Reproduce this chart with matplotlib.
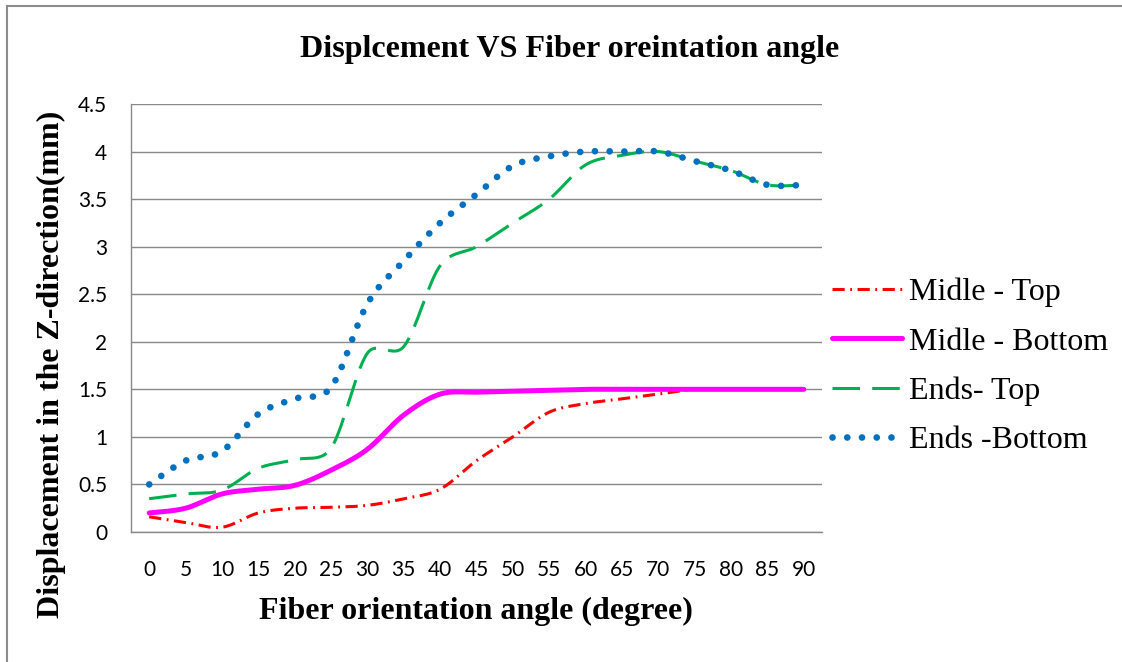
import numpy as np
import matplotlib
matplotlib.use("Agg")
import matplotlib.pyplot as plt
from matplotlib.lines import Line2D

angles = [0, 5, 10, 15, 20, 25, 30, 35, 40, 45, 50, 55, 60, 65, 70, 75, 80, 85, 90]
middle_top = [0.16, 0.10, 0.05, 0.20, 0.25, 0.26, 0.28, 0.35, 0.45, 0.75, 1.00, 1.26, 1.35, 1.40, 1.45, 1.50, 1.50, 1.50, 1.50]
middle_bottom = [0.20, 0.25, 0.40, 0.45, 0.49, 0.65, 0.87, 1.23, 1.45, 1.47, 1.48, 1.49, 1.50, 1.50, 1.50, 1.50, 1.50, 1.50, 1.50]
ends_top = [0.35, 0.40, 0.44, 0.67, 0.76, 0.88, 1.88, 1.95, 2.80, 3.00, 3.25, 3.50, 3.86, 3.96, 4.00, 3.90, 3.80, 3.65, 3.65]
ends_bottom = [0.50, 0.75, 0.85, 1.24, 1.40, 1.52, 2.40, 2.85, 3.25, 3.55, 3.85, 3.95, 4.00, 4.00, 4.00, 3.90, 3.80, 3.65, 3.65]
series_names = ["Midle - Top", "Midle - Bottom", "Ends- Top", "Ends -Bottom"]
y_ticks = [0, 0.5, 1, 1.5, 2, 2.5, 3, 3.5, 4, 4.5]
y_tick_labels = ["0", "0.5", "1", "1.5", "2", "2.5", "3", "3.5", "4", "4.5"]

W, H = 1122, 662
AX_L, AX_R, AX_T, AX_B = 131, 822, 104, 532
XMIN, XMAX, YMIN, YMAX = -2.5, 92.5, 0.0, 4.5
SX = (AX_R - AX_L) / (XMAX - XMIN)   # px per degree
SY = (AX_B - AX_T) / (YMAX - YMIN)   # px per mm


def smooth(x, y, n=30, cap=0.45):
    """Excel-like smoothed line: Bezier spline with Catmull-Rom tangents,
    computed in screen space with control arms limited to a fraction of the segment."""
    P = np.column_stack([np.asarray(x, float) * SX, np.asarray(y, float) * SY])
    Pe = np.vstack([P[0], P, P[-1]])
    out = []
    t = np.linspace(0, 1, n)[:, None]
    for i in range(len(P) - 1):
        p0 = Pe[i + 1]
        p3 = Pe[i + 2]
        L = np.hypot(*(p3 - p0))
        d1 = (Pe[i + 2] - Pe[i]) / 6.0
        d2 = (Pe[i + 3] - Pe[i + 1]) / 6.0
        for d in (d1, d2):
            m = np.hypot(*d)
            if m > cap * L and m > 0:
                d *= cap * L / m
        c1 = p0 + d1
        c2 = p3 - d2
        seg = ((1 - t) ** 3) * p0 + 3 * ((1 - t) ** 2) * t * c1 + 3 * (1 - t) * t ** 2 * c2 + t ** 3 * p3
        out.append(seg if i == 0 else seg[1:])
    out = np.vstack(out)
    return out[:, 0] / SX, out[:, 1] / SY


fig = plt.figure(figsize=(W / 100, H / 100), dpi=100)
ax = fig.add_axes([AX_L / W, 1 - AX_B / H, (AX_R - AX_L) / W, (AX_B - AX_T) / H])

styles = [
    dict(color="#FF0000", lw=2.2, linestyle=(0, (4, 1.8, 0.6, 1.8)), dash_capstyle="butt"),
    dict(color="#FF00FF", lw=3.6, linestyle="-", solid_capstyle="round"),
    dict(color="#00B050", lw=2.2, linestyle=(0, (9, 4)), dash_capstyle="butt"),
    dict(color="#0070C0", lw=4.8, linestyle=(0, (0.01, 2.2)), dash_capstyle="round"),
]
data = [middle_top, middle_bottom, ends_top, ends_bottom]
handles = []
for vals, st, name in zip(data, styles, series_names):
    xs, ys = smooth(angles, vals)
    ln, = ax.plot(xs, ys, label=name, **st)
    handles.append(ln)

ax.set_xlim(XMIN, XMAX)
ax.set_ylim(YMIN, YMAX)
ax.set_yticks(y_ticks)
ax.set_yticklabels(y_tick_labels)
ax.set_xticks(angles)
ax.set_xticklabels([str(a) for a in angles])
ax.yaxis.grid(True, color="#898989", lw=1.0)
ax.set_axisbelow(True)
for s in ["top", "right"]:
    ax.spines[s].set_visible(False)
for s in ["left", "bottom"]:
    ax.spines[s].set_color("#898989")
    ax.spines[s].set_linewidth(1.0)
ax.tick_params(axis="both", length=0, labelsize=15)
ax.tick_params(axis="y", pad=17)
ax.tick_params(axis="x", pad=20)
for lab in ax.get_xticklabels() + ax.get_yticklabels():
    lab.set_fontfamily("Lato")

fig.text(570 / W, 1 - 49 / H, "Displcement VS Fiber oreintation angle",
         ha="center", va="center", fontfamily="Liberation Serif", fontweight="bold", fontsize=23)
fig.text(476 / W, 1 - 611 / H, "Fiber orientation angle (degree)",
         ha="center", va="center", fontfamily="Liberation Serif", fontweight="bold", fontsize=23)
fig.text(51 / W, 1 - 364 / H, "Displacement in the Z-direction(mm)", rotation=90,
         ha="center", va="center", fontfamily="Liberation Serif", fontweight="bold", fontsize=23)

leg = fig.legend(handles=handles, loc="upper left", bbox_to_anchor=(832 / W, 1 - 278 / H),
                 frameon=False, prop=dict(family="Liberation Serif", size=23),
                 handlelength=2.2, handletextpad=0.22, labelspacing=0.62, borderaxespad=0, borderpad=0)

# outer chart border (top and left only visible)
fig.add_artist(Line2D([7 / W, 7 / W], [0, 1 - 6 / H], color="#8c8c8c", lw=1.5, transform=fig.transFigure))
fig.add_artist(Line2D([7 / W, 1], [1 - 6 / H, 1 - 6 / H], color="#8c8c8c", lw=1.5, transform=fig.transFigure))

fig.savefig("out.png", dpi=100)
